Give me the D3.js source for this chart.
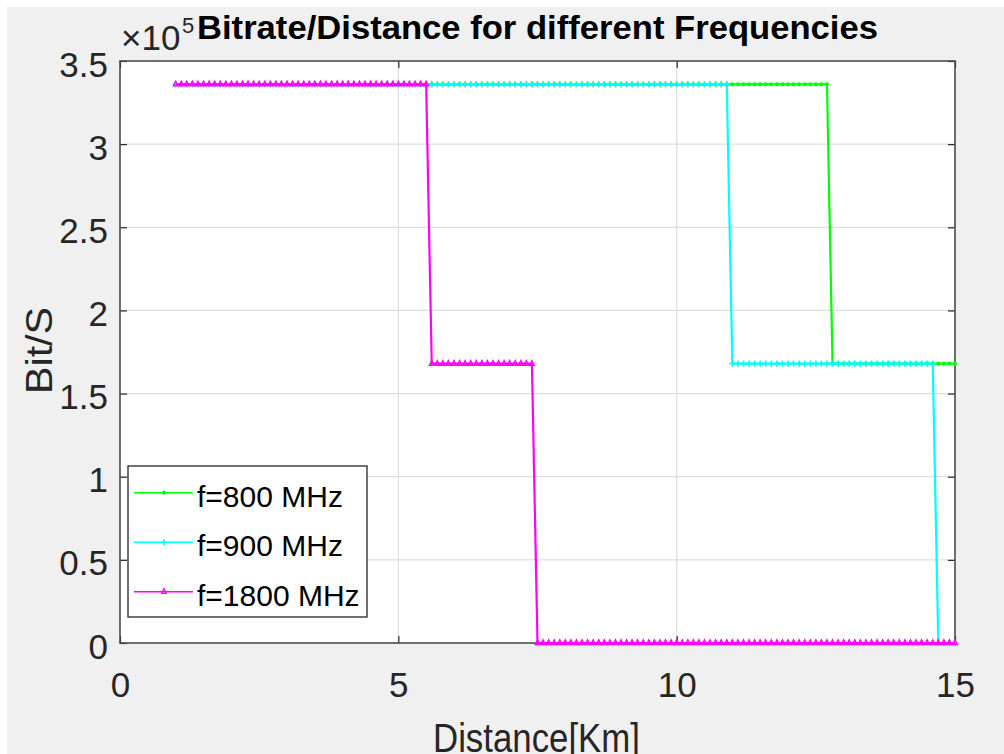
<!DOCTYPE html>
<html>
<head>
<meta charset="utf-8">
<script src="https://cdn.jsdelivr.net/npm/d3@7"></script>
<style>
  html, body { margin: 0; padding: 0; background: #ffffff; }
  svg { display: block; }
</style>
</head>
<body>
<svg id="chart" width="1004" height="754"></svg>
<script>
// Sample distances in km
const distanceKm = [
  1.0,1.1,1.2,1.3,1.4,1.5,1.6,1.7,1.8,1.9,
  2.0,2.1,2.2,2.3,2.4,2.5,2.6,2.7,2.8,2.9,
  3.0,3.1,3.2,3.3,3.4,3.5,3.6,3.7,3.8,3.9,
  4.0,4.1,4.2,4.3,4.4,4.5,4.6,4.7,4.8,4.9,
  5.0,5.1,5.2,5.3,5.4,5.5,5.6,5.7,5.8,5.9,
  6.0,6.1,6.2,6.3,6.4,6.5,6.6,6.7,6.8,6.9,
  7.0,7.1,7.2,7.3,7.4,7.5,7.6,7.7,7.8,7.9,
  8.0,8.1,8.2,8.3,8.4,8.5,8.6,8.7,8.8,8.9,
  9.0,9.1,9.2,9.3,9.4,9.5,9.6,9.7,9.8,9.9,
  10.0,10.1,10.2,10.3,10.4,10.5,10.6,10.7,10.8,10.9,
  11.0,11.1,11.2,11.3,11.4,11.5,11.6,11.7,11.8,11.9,
  12.0,12.1,12.2,12.3,12.4,12.5,12.6,12.7,12.8,12.9,
  13.0,13.1,13.2,13.3,13.4,13.5,13.6,13.7,13.8,13.9,
  14.0,14.1,14.2,14.3,14.4,14.5,14.6,14.7,14.8,14.9,
  15.0
];

// Bitrate (bit/s) at each distance, f = 800 MHz
const bitrate800 = [
  336000,336000,336000,336000,336000,336000,336000,336000,336000,336000,
  336000,336000,336000,336000,336000,336000,336000,336000,336000,336000,
  336000,336000,336000,336000,336000,336000,336000,336000,336000,336000,
  336000,336000,336000,336000,336000,336000,336000,336000,336000,336000,
  336000,336000,336000,336000,336000,336000,336000,336000,336000,336000,
  336000,336000,336000,336000,336000,336000,336000,336000,336000,336000,
  336000,336000,336000,336000,336000,336000,336000,336000,336000,336000,
  336000,336000,336000,336000,336000,336000,336000,336000,336000,336000,
  336000,336000,336000,336000,336000,336000,336000,336000,336000,336000,
  336000,336000,336000,336000,336000,336000,336000,336000,336000,336000,
  336000,336000,336000,336000,336000,336000,336000,336000,336000,336000,
  336000,336000,336000,336000,336000,336000,336000,336000,168000,168000,
  168000,168000,168000,168000,168000,168000,168000,168000,168000,168000,
  168000,168000,168000,168000,168000,168000,168000,168000,168000,168000,
  168000
];

// Bitrate (bit/s) at each distance, f = 900 MHz
const bitrate900 = [
  336000,336000,336000,336000,336000,336000,336000,336000,336000,336000,
  336000,336000,336000,336000,336000,336000,336000,336000,336000,336000,
  336000,336000,336000,336000,336000,336000,336000,336000,336000,336000,
  336000,336000,336000,336000,336000,336000,336000,336000,336000,336000,
  336000,336000,336000,336000,336000,336000,336000,336000,336000,336000,
  336000,336000,336000,336000,336000,336000,336000,336000,336000,336000,
  336000,336000,336000,336000,336000,336000,336000,336000,336000,336000,
  336000,336000,336000,336000,336000,336000,336000,336000,336000,336000,
  336000,336000,336000,336000,336000,336000,336000,336000,336000,336000,
  336000,336000,336000,336000,336000,336000,336000,336000,336000,336000,
  168000,168000,168000,168000,168000,168000,168000,168000,168000,168000,
  168000,168000,168000,168000,168000,168000,168000,168000,168000,168000,
  168000,168000,168000,168000,168000,168000,168000,168000,168000,168000,
  168000,168000,168000,168000,168000,168000,168000,0,0,0,
  0
];

// Bitrate (bit/s) at each distance, f = 1800 MHz
const bitrate1800 = [
  336000,336000,336000,336000,336000,336000,336000,336000,336000,336000,
  336000,336000,336000,336000,336000,336000,336000,336000,336000,336000,
  336000,336000,336000,336000,336000,336000,336000,336000,336000,336000,
  336000,336000,336000,336000,336000,336000,336000,336000,336000,336000,
  336000,336000,336000,336000,336000,336000,168000,168000,168000,168000,
  168000,168000,168000,168000,168000,168000,168000,168000,168000,168000,
  168000,168000,168000,168000,168000,0,0,0,0,0,
  0,0,0,0,0,0,0,0,0,0,
  0,0,0,0,0,0,0,0,0,0,
  0,0,0,0,0,0,0,0,0,0,
  0,0,0,0,0,0,0,0,0,0,
  0,0,0,0,0,0,0,0,0,0,
  0,0,0,0,0,0,0,0,0,0,
  0,0,0,0,0,0,0,0,0,0,
  0
];

const seriesLabels = ["f=800 MHz", "f=900 MHz", "f=1800 MHz"];
const seriesColors = ["#00ff00", "#00ffff", "#ff00ff"];
const seriesMarkers = ["dot", "plus", "triangle"];
const seriesValues = [bitrate800, bitrate900, bitrate1800];

const xTickValues = [0, 5, 10, 15];
const yTickValues = [0, 50000, 100000, 150000, 200000, 250000, 300000, 350000];
const yTickLabels = ["0", "0.5", "1", "1.5", "2", "2.5", "3", "3.5"];

const titleText = "Bitrate/Distance for different Frequencies";
const xLabelText = "Distance[Km]";
const yLabelText = "Bit/S";

// ---- layout ----
const W = 1004, H = 754;
const plot = { left: 120, right: 955, top: 61, bottom: 643 };
const FONT = "'Liberation Sans', Arial, Helvetica, sans-serif";
const axisColor = "#262626";

const svg = d3.select("#chart");

// figure background (thin white margin on top/left)
svg.append("rect").attr("x", 7).attr("y", 7)
  .attr("width", W - 7).attr("height", H - 7).attr("fill", "#f0f0f0");

const x = d3.scaleLinear().domain([0, 15]).range([plot.left, plot.right]);
const y = d3.scaleLinear().domain([0, 350000]).range([plot.bottom, plot.top]);

// axes background
svg.append("rect")
  .attr("x", plot.left).attr("y", plot.top)
  .attr("width", plot.right - plot.left).attr("height", plot.bottom - plot.top)
  .attr("fill", "#ffffff");

// grid
const grid = svg.append("g").attr("stroke", "#dedede").attr("stroke-width", 1.2);
grid.selectAll("line.gx").data(xTickValues.slice(1, -1)).join("line")
  .attr("x1", d => x(d)).attr("x2", d => x(d))
  .attr("y1", plot.top).attr("y2", plot.bottom);
grid.selectAll("line.gy").data(yTickValues.slice(1, -1)).join("line")
  .attr("x1", plot.left).attr("x2", plot.right)
  .attr("y1", d => y(d)).attr("y2", d => y(d));

// axes with inward ticks on all four sides
function styleAxis(g) {
  g.select(".domain").remove();
  g.selectAll(".tick line").attr("stroke", axisColor).attr("stroke-width", 1.2);
  g.selectAll(".tick text").attr("fill", axisColor)
    .style("font-family", FONT).style("font-size", "35px");
}

const gx = svg.append("g").attr("transform", `translate(0,${plot.bottom})`)
  .call(d3.axisBottom(x).tickValues(xTickValues).tickFormat(d3.format("d"))
    .tickSizeInner(-7).tickSizeOuter(0));
styleAxis(gx);
gx.selectAll(".tick text").attr("y", 54).attr("dy", 0);

const gy = svg.append("g").attr("transform", `translate(${plot.left},0)`)
  .call(d3.axisLeft(y).tickValues(yTickValues)
    .tickFormat((d, i) => yTickLabels[i])
    .tickSizeInner(-7).tickSizeOuter(0));
styleAxis(gy);
gy.selectAll(".tick text").attr("x", -12).attr("y", 15).attr("dy", 0);

const gxTop = svg.append("g").attr("transform", `translate(0,${plot.top})`)
  .call(d3.axisTop(x).tickValues(xTickValues).tickFormat("")
    .tickSizeInner(-7).tickSizeOuter(0));
styleAxis(gxTop);

const gyRight = svg.append("g").attr("transform", `translate(${plot.right},0)`)
  .call(d3.axisRight(y).tickValues(yTickValues).tickFormat("")
    .tickSizeInner(-7).tickSizeOuter(0));
styleAxis(gyRight);

// axes box
svg.append("rect")
  .attr("x", plot.left).attr("y", plot.top)
  .attr("width", plot.right - plot.left).attr("height", plot.bottom - plot.top)
  .attr("fill", "none").attr("stroke", "#4d4d4d").attr("stroke-width", 1.6);

// markers
function drawMarker(g, type, color, cx, cy) {
  if (type === "dot") {
    g.append("circle").attr("cx", cx).attr("cy", cy).attr("r", 2.1).attr("fill", color);
  } else if (type === "plus") {
    g.append("path")
      .attr("d", `M${cx - 2.8},${cy}H${cx + 2.8}M${cx},${cy - 3.2}V${cy + 3.2}`)
      .attr("stroke", color).attr("stroke-width", 1.6).attr("fill", "none");
  } else {
    g.append("path")
      .attr("d", `M${cx},${cy - 3.2}L${cx + 2.4},${cy + 1.6}L${cx - 2.4},${cy + 1.6}Z`)
      .attr("stroke", color).attr("stroke-width", 1.3).attr("fill", "none");
  }
}

// data lines
const line = d3.line().x(d => x(d[0])).y(d => y(d[1]));
seriesValues.forEach((vals, s) => {
  const pts = distanceKm.map((d, i) => [d, vals[i]]);
  const g = svg.append("g");
  g.append("path").datum(pts)
    .attr("d", line)
    .attr("fill", "none")
    .attr("stroke", seriesColors[s])
    .attr("stroke-width", 2.2)
    .attr("stroke-linejoin", "miter");
  pts.forEach(p => drawMarker(g, seriesMarkers[s], seriesColors[s], x(p[0]), y(p[1])));
});

// legend
const legend = svg.append("g");
legend.append("rect")
  .attr("x", 128).attr("y", 466).attr("width", 239).attr("height", 151)
  .attr("fill", "#ffffff").attr("stroke", axisColor).attr("stroke-width", 1.3);
const legendRowY = [492.7, 542.3, 591.7];
seriesLabels.forEach((lab, s) => {
  const ly = legendRowY[s];
  legend.append("line")
    .attr("x1", 134).attr("x2", 193).attr("y1", ly).attr("y2", ly)
    .attr("stroke", seriesColors[s]).attr("stroke-width", 1.6);
  drawMarker(legend, seriesMarkers[s], seriesColors[s], 164, ly);
  legend.append("text")
    .attr("x", 197).attr("y", ly + 13.8)
    .attr("fill", "#000000")
    .style("font-family", FONT).style("font-size", "30px")
    .text(lab);
});

// exponent label
const expo = svg.append("text")
  .attr("x", 121).attr("y", 50)
  .attr("fill", axisColor)
  .style("font-family", FONT).style("font-size", "35px");
expo.append("tspan").text("\u00d710");
svg.append("text")
  .attr("x", 182).attr("y", 33)
  .attr("fill", axisColor)
  .style("font-family", FONT).style("font-size", "22px")
  .text("5");

// title
svg.append("text")
  .attr("x", 197).attr("y", 39)
  .attr("fill", "#000000")
  .attr("textLength", 681).attr("lengthAdjust", "spacingAndGlyphs")
  .style("font-family", FONT).style("font-size", "33px").style("font-weight", "bold")
  .text(titleText);

// axis labels
svg.append("text")
  .attr("x", 536.5).attr("y", 752)
  .attr("text-anchor", "middle")
  .attr("fill", axisColor)
  .attr("textLength", 207).attr("lengthAdjust", "spacingAndGlyphs")
  .style("font-family", FONT).style("font-size", "41px")
  .text(xLabelText);

svg.append("text")
  .attr("transform", "translate(52,350.5) rotate(-90)")
  .attr("text-anchor", "middle")
  .attr("fill", axisColor)
  .attr("textLength", 87).attr("lengthAdjust", "spacingAndGlyphs")
  .style("font-family", FONT).style("font-size", "37px")
  .text(yLabelText);
</script>
</body>
</html>
